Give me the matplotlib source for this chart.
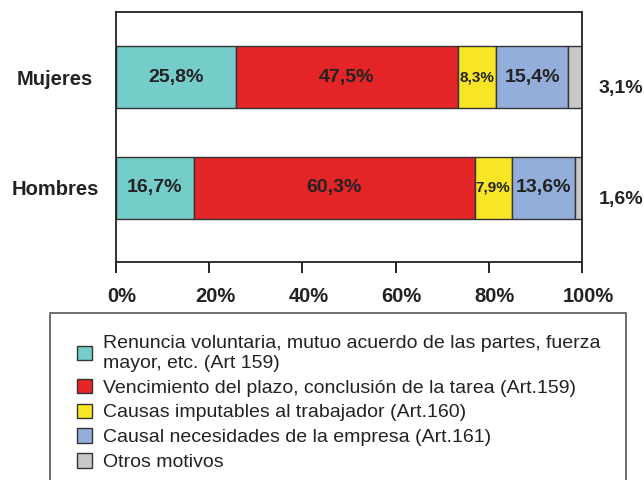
import matplotlib
matplotlib.use("Agg")
import matplotlib.pyplot as plt
import matplotlib.transforms as mtransforms
from matplotlib.patches import Rectangle, Patch

groups = ["Hombres", "Mujeres"]
motivos = [
    "Renuncia voluntaria, mutuo acuerdo de las partes, fuerza\nmayor, etc. (Art 159)",
    "Vencimiento del plazo, conclusión de la tarea (Art.159)",
    "Causas imputables al trabajador (Art.160)",
    "Causal necesidades de la empresa (Art.161)",
    "Otros motivos",
]
hombres = [16.7, 60.3, 7.9, 13.6, 1.6]
mujeres = [25.8, 47.5, 8.3, 15.4, 3.1]
colores = ["#75cdc9", "#e42528", "#f8e526", "#93aedb", "#c8c8c8"]
xticks = [0, 20, 40, 60, 80, 100]

fam = ["Liberation Sans", "DejaVu Sans"]

fig = plt.figure(figsize=(6.44, 4.80), dpi=100)
ax = fig.add_axes([116 / 644, 1 - 262 / 480, 466 / 644, 250 / 480])

data = [hombres, mujeres]
for i, vals in enumerate(data):
    left = 0
    for j, v in enumerate(vals):
        ax.barh(i, v, left=left, height=0.56, color=colores[j],
                edgecolor="#333333", linewidth=1)
        lab = f"{v:.1f}%".replace(".", ",")
        if j < 4:
            size = 11 if j == 2 else 14
            ax.text(left + v / 2, i, lab, ha="center", va="center",
                    fontsize=size, fontweight="bold", family=fam,
                    color="#222222")
        else:
            ax.text(103.5, i - 0.1, lab, ha="left", va="center",
                    fontsize=14, fontweight="bold", family=fam,
                    color="#222222")
        left += v

ax.set_xlim(0, 100)
ax.set_ylim(-0.667, 1.586)
ax.set_yticks([0, 1])
ax.set_yticklabels(groups, fontsize=14.5, fontweight="bold", family=fam,
                   color="#222222", ha="center")
ax.tick_params(axis="y", length=0, pad=44)
ax.set_xticks(xticks)
ax.set_xticklabels([f"{t}%" for t in xticks], fontsize=14.5,
                   fontweight="bold", family=fam, color="#222222")
ax.tick_params(axis="x", direction="out", length=8, width=1.2, pad=10)
shift = mtransforms.ScaledTranslation(6 / 100, 0, fig.dpi_scale_trans)
for lbl in ax.get_xticklabels():
    lbl.set_transform(lbl.get_transform() + shift)
for s in ax.spines.values():
    s.set_linewidth(1.3)
    s.set_color("#222222")

# legend box (runs past the bottom edge)
fig.patches.append(Rectangle((50 / 644, -0.05), 576 / 644, (480 - 313) / 480 + 0.05,
                             transform=fig.transFigure, fill=False,
                             edgecolor="#555555", linewidth=1.2))
handles = [Patch(facecolor=c, edgecolor="#333333", linewidth=1) for c in colores]
leg = fig.legend(handles, motivos, loc="upper left",
                 bbox_to_anchor=(77 / 644, 1 - 335 / 480),
                 frameon=False, prop={"family": fam, "size": 14},
                 handlelength=0.75, handleheight=0.75, handletextpad=0.6,
                 labelspacing=0.36, borderaxespad=0, borderpad=0)
for t in leg.get_texts():
    t.set_linespacing(1.2)
    t.set_color("#222222")

fig.savefig("out.png", dpi=100)
